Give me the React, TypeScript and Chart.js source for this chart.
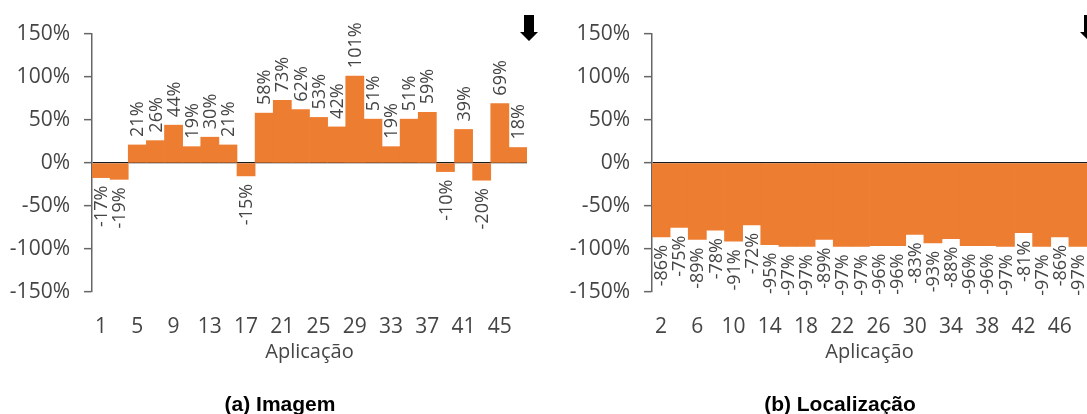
import React, { useEffect, useRef } from "react";
import { Chart, registerables } from "chart.js";

Chart.register(...registerables);

const imagemCategories = ["1", "3", "5", "7", "9", "11", "13", "15", "17", "19", "21", "23", "25", "27", "29", "31", "33", "35", "37", "39", "41", "43", "45", "47"];
const imagemValues = [-17, -19, 21, 26, 44, 19, 30, 21, -15, 58, 73, 62, 53, 42, 101, 51, 19, 51, 59, -10, 39, -20, 69, 18];

const localizacaoCategories = ["2", "4", "6", "8", "10", "12", "14", "16", "18", "20", "22", "24", "26", "28", "30", "32", "34", "36", "38", "40", "42", "44", "46", "48"];
const localizacaoValues = [-86, -75, -89, -78, -91, -72, -95, -97, -97, -89, -97, -97, -96, -96, -83, -93, -88, -96, -96, -97, -81, -97, -86, -97];

const yTickValues = [-150, -100, -50, 0, 50, 100, 150];

const FONT = "'Open Sans', 'DejaVu Sans', sans-serif";
const TEXT = "#454545";
const ORANGE = "#ED7D31";

const labelPlugin = {
  id: "barLabels",
  afterDatasetsDraw(chart: any) {
    const ctx = chart.ctx;
    const meta = chart.getDatasetMeta(0);
    const data = chart.data.datasets[0].data as number[];
    ctx.save();
    ctx.font = `18px ${FONT}`;
    ctx.fillStyle = TEXT;
    ctx.textBaseline = "middle";
    meta.data.forEach((bar: any, i: number) => {
      const v = data[i];
      ctx.save();
      if (v >= 0) {
        ctx.translate(bar.x + 1, bar.y - 8);
        ctx.rotate(-Math.PI / 2);
        ctx.textAlign = "left";
      } else {
        ctx.translate(bar.x + 1, bar.y + 8);
        ctx.rotate(-Math.PI / 2);
        ctx.textAlign = "right";
      }
      ctx.fillText(`${v}%`, 0, 0);
      ctx.restore();
    });
    ctx.restore();
  },
};

const arrowPlugin = {
  id: "downArrow",
  afterDraw(chart: any) {
    const ctx = chart.ctx;
    const cx = chart.chartArea.right + 2;
    ctx.save();
    ctx.fillStyle = "#000";
    ctx.beginPath();
    ctx.moveTo(cx - 5, 15);
    ctx.lineTo(cx + 5, 15);
    ctx.lineTo(cx + 5, 32);
    ctx.lineTo(cx + 9, 32);
    ctx.lineTo(cx, 41);
    ctx.lineTo(cx - 9, 32);
    ctx.lineTo(cx - 5, 32);
    ctx.closePath();
    ctx.fill();
    ctx.restore();
  },
};

function makeConfig(categories: string[], values: number[]): any {
  return {
    type: "bar",
    data: {
      labels: categories,
      datasets: [
        {
          data: values,
          backgroundColor: ORANGE,
          borderWidth: 0,
          barPercentage: 1,
          categoryPercentage: 1,
        },
      ],
    },
    plugins: [labelPlugin, arrowPlugin],
    options: {
      responsive: false,
      animation: false,
      layout: { padding: { top: 34, right: 33, left: 0, bottom: 0 } },
      plugins: {
        legend: { display: false },
        tooltip: { enabled: false },
        title: { display: false },
      },
      scales: {
        x: {
          type: "category",
          grid: { display: false, drawTicks: false },
          border: { display: false },
          ticks: {
            autoSkip: false,
            maxRotation: 0,
            minRotation: 0,
            padding: 22,
            color: TEXT,
            font: { family: FONT, size: 21 },
            callback: function (this: any, val: any, index: number) {
              return index % 2 === 0 ? this.getLabelForValue(val) : "";
            },
          },
          title: {
            display: true,
            text: "Aplicação",
            color: TEXT,
            font: { family: FONT, size: 20 },
            padding: { top: 0, bottom: 50 },
          },
          afterFit: (scale: any) => {
            scale.height = 122;
          },
        },
        y: {
          min: -150,
          max: 150,
          z: 1,
          afterBuildTicks: (scale: any) => {
            scale.ticks = yTickValues.map((v) => ({ value: v }));
          },
          grid: {
            drawOnChartArea: true,
            drawTicks: true,
            tickLength: 8,
            tickWidth: 1.5,
            tickColor: "#666666",
            lineWidth: 1.3,
            color: (c: any) => (c.tick && c.tick.value === 0 ? "#1a1a1a" : "rgba(0,0,0,0)"),
          },
          border: { display: true, color: "#666666", width: 1.5 },
          ticks: {
            padding: 14,
            color: TEXT,
            font: { family: FONT, size: 21 },
            callback: (v: any) => `${v}%`,
          },
          afterFit: (scale: any) => {
            scale.width = 92;
          },
        },
      },
    },
  };
}

function Panel({ categories, values, left, title }: { categories: string[]; values: number[]; left: number; title: string }) {
  const ref = useRef<HTMLCanvasElement | null>(null);
  useEffect(() => {
    if (!ref.current) return;
    const chart = new Chart(ref.current, makeConfig(categories, values));
    return () => chart.destroy();
  }, [categories, values]);
  return (
    <div style={{ position: "absolute", left, top: 0, width: 560, height: 414 }}>
      <canvas ref={ref} width={560} height={414} style={{ width: 560, height: 414, display: "block" }} />
      <div
        style={{
          position: "absolute",
          left: 0,
          width: 560,
          top: 391,
          textAlign: "center",
          fontFamily: "'Liberation Sans', Arial, sans-serif",
          fontWeight: "bold",
          fontSize: 21,
          lineHeight: "26px",
          color: "#000",
          whiteSpace: "nowrap",
        }}
      >
        {title}
      </div>
    </div>
  );
}

export default function App() {
  return (
    <div
      style={{
        position: "absolute",
        left: 0,
        top: 0,
        width: 1087,
        height: 414,
        overflow: "hidden",
        background: "#fff",
      }}
    >
      <Panel categories={imagemCategories} values={imagemValues} left={0} title="(a) Imagem" />
      <Panel categories={localizacaoCategories} values={localizacaoValues} left={560} title="(b) Localização" />
    </div>
  );
}
